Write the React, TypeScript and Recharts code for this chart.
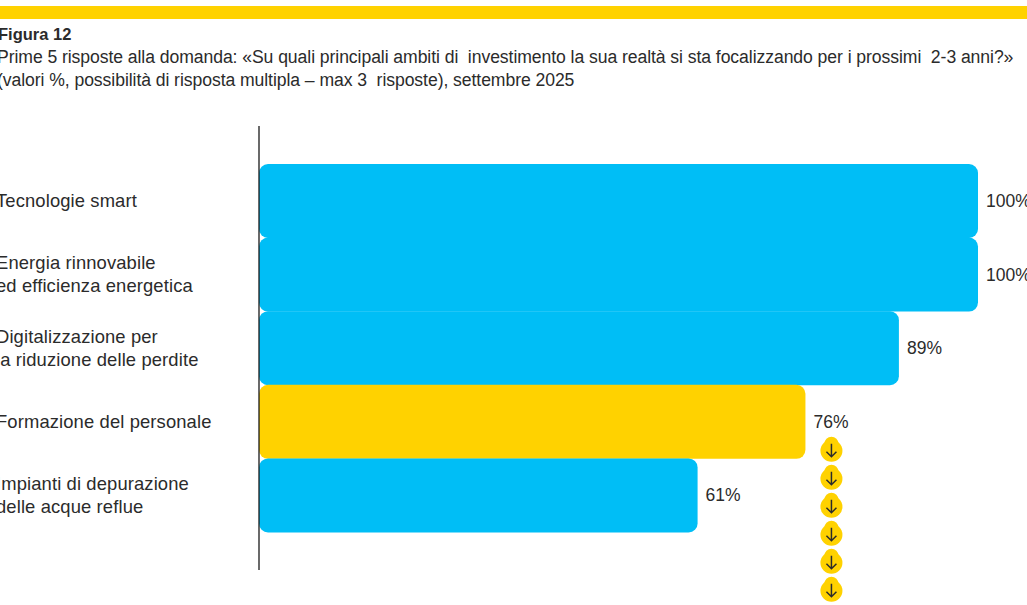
import { BarChart, Bar, Cell, XAxis, YAxis, LabelList } from "recharts"

const FONT = "'Liberation Sans', Arial, sans-serif"
const INK = "#2b2b2b"
const BLUE = "#00BEF6"
const YELLOW = "#FFD200"

const categories = [
  "Tecnologie smart",
  "Energia rinnovabile\ned efficienza energetica",
  "Digitalizzazione per\nla riduzione delle perdite",
  "Formazione del personale",
  "Impianti di depurazione\ndelle acque reflue",
]
const values = [100, 100, 89, 76, 61]
const highlighted = "Formazione del personale"
const arrowSlots = [0, 1, 2, 3, 4, 5]

const data = categories.map((name, i) => ({ name, value: values[i] }))

function CategoryTick({ y, payload }: any) {
  const lines: string[] = payload.value.split("\n")
  return (
    <text fontFamily={FONT} fontSize={18.4} letterSpacing={0.12} fill={INK}>
      {lines.map((line, i) => (
        <tspan key={i} x={-4} y={y + 6 + (i - (lines.length - 1) / 2) * 23}>
          {line}
        </tspan>
      ))}
    </text>
  )
}

function DownArrow({ cx, cy }: { cx: number; cy: number }) {
  return (
    <g>
      <circle cx={cx} cy={cy} r={11} fill={YELLOW} />
      <circle cx={cx} cy={cy - 7} r={7} fill={YELLOW} />
      <path
        d={`M${cx} ${cy - 7}V${cy + 6}M${cx - 5} ${cy + 1}L${cx} ${cy + 6}L${cx + 5} ${cy + 1}`}
        fill="none"
        stroke={INK}
        strokeWidth={1.5}
      />
    </g>
  )
}

// value at the end of the bar, plus the run of arrows under the highlighted one
function ValueLabel({ x, y, width, height, value, index }: any) {
  const end = x + width
  const mid = y + height / 2
  return (
    <g>
      <text x={end + 8} y={mid + 6} fontFamily={FONT} fontSize={17.5} fill={INK}>
        {value}%
      </text>
      {categories[index] === highlighted &&
        arrowSlots.map((slot) => (
          <DownArrow key={slot} cx={end + 26} cy={mid + 29 + slot * 28} />
        ))}
    </g>
  )
}

export default function App() {
  return (
    <div
      style={{
        position: "absolute",
        left: 0,
        top: 0,
        width: 1027,
        height: 605,
        overflow: "hidden",
        background: "#fff",
        fontFamily: FONT,
        color: INK,
      }}
    >
      <div style={{ position: "absolute", left: 0, top: 6, width: 1027, height: 13, background: YELLOW }} />
      <div style={{ position: "absolute", left: -2, top: 23, fontSize: 16.5, lineHeight: "23px", fontWeight: 700, whiteSpace: "pre" }}>
        Figura 12
      </div>
      <div style={{ position: "absolute", left: -3, top: 46, fontSize: 17.6, letterSpacing: -0.07, lineHeight: "23px", whiteSpace: "pre" }}>
        Prime 5 risposte alla domanda: «Su quali principali ambiti di  investimento la sua realtà si sta focalizzando per i prossimi  2-3 anni?»
        <br />
        (valori %, possibilità di risposta multipla – max 3  risposte), settembre 2025
      </div>
      <div style={{ position: "absolute", left: 0, top: 0 }}>
        <BarChart
          width={1027}
          height={605}
          data={data}
          layout="vertical"
          barCategoryGap={0}
          margin={{ top: 126, right: 49, bottom: 35, left: 0 }}
          style={{ overflow: "visible" }}
        >
          <XAxis type="number" domain={[0, 100]} hide />
          <YAxis
            type="category"
            dataKey="name"
            width={259}
            padding={{ top: 38, bottom: 38 }}
            axisLine={{ stroke: "#1a1a1a", strokeWidth: 1.3 }}
            tickLine={false}
            tick={<CategoryTick />}
            interval={0}
          />
          <Bar dataKey="value" radius={9} isAnimationActive={false}>
            {categories.map((name) => (
              <Cell key={name} fill={name === highlighted ? YELLOW : BLUE} />
            ))}
            <LabelList dataKey="value" content={<ValueLabel />} />
          </Bar>
        </BarChart>
      </div>
    </div>
  )
}
